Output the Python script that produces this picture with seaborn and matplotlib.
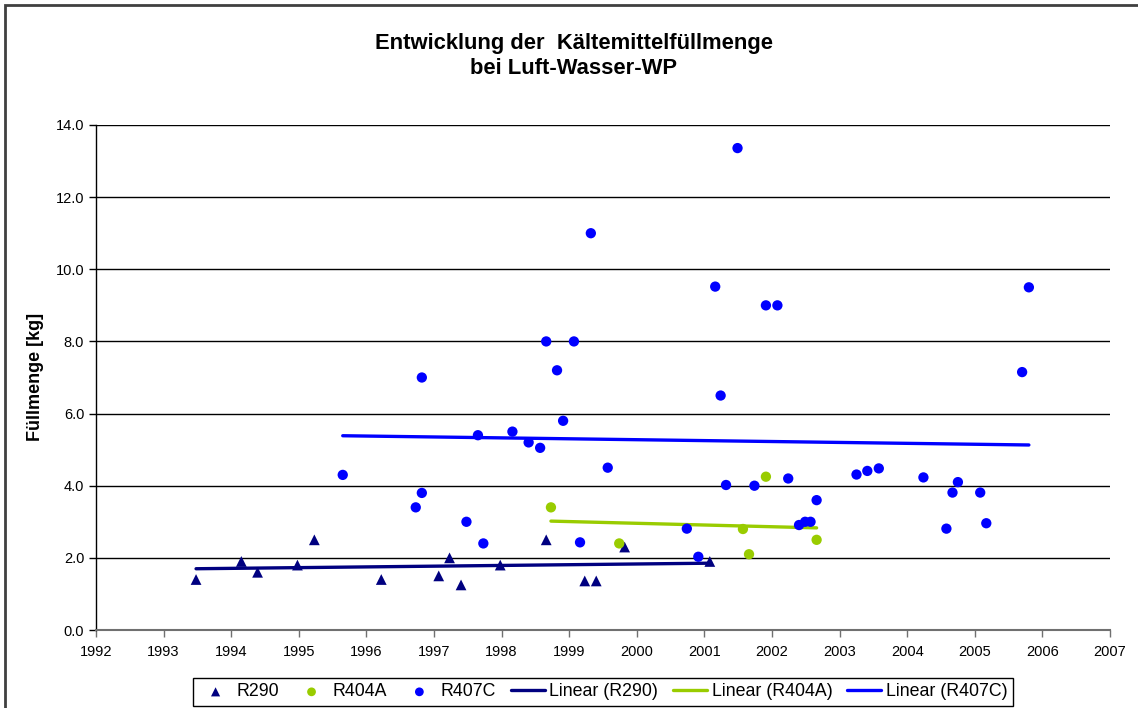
import numpy as np
import pandas as pd
import matplotlib
matplotlib.use("Agg")
import matplotlib.pyplot as plt
import seaborn as sns
from matplotlib.patches import Rectangle
from matplotlib.ticker import FormatStrFormatter


# Baujahr (Dezimaljahr) und Füllmenge [kg]
R290_YEAR = [1993.48, 1994.15, 1994.39, 1994.98, 1995.23, 1996.22, 1997.07, 1997.23,
             1997.40, 1997.98, 1998.66, 1999.23, 1999.40, 1999.82, 2001.08]
R290_KG = [1.40, 1.90, 1.60, 1.80, 2.50, 1.40, 1.50, 2.00,
           1.25, 1.80, 2.50, 1.36, 1.36, 2.30, 1.90]

R404A_YEAR = [1998.73, 1999.74, 2001.57, 2001.66, 2001.91, 2002.66]
R404A_KG = [3.40, 2.40, 2.80, 2.10, 4.25, 2.50]

R407C_YEAR = [1995.65, 1996.73, 1996.82, 1996.82, 1997.48, 1997.65, 1997.73, 1998.16,
              1998.40, 1998.57, 1998.66, 1998.82, 1998.91, 1999.07, 1999.16, 1999.32,
              1999.57, 2000.74, 2000.91, 2001.16, 2001.24, 2001.32, 2001.49, 2001.74,
              2001.91, 2002.08, 2002.24, 2002.40, 2002.49, 2002.57, 2002.66, 2003.25,
              2003.41, 2003.58, 2004.24, 2004.58, 2004.67, 2004.75, 2005.08, 2005.17,
              2005.70, 2005.80]
R407C_KG = [4.30, 3.40, 3.80, 7.00, 3.00, 5.40, 2.40, 5.50,
            5.20, 5.05, 8.00, 7.20, 5.80, 8.00, 2.43, 11.00,
            4.50, 2.81, 2.03, 9.52, 6.50, 4.02, 13.36, 4.00,
            9.00, 9.00, 4.20, 2.91, 3.00, 3.00, 3.60, 4.31,
            4.41, 4.48, 4.23, 2.81, 3.81, 4.10, 3.81, 2.96,
            7.15, 9.50]

SERIES = [
    ("R290", R290_YEAR, R290_KG, "#000080", "^"),
    ("R404A", R404A_YEAR, R404A_KG, "#99CC00", "o"),
    ("R407C", R407C_YEAR, R407C_KG, "#0000FF", "o"),
]

X_TICKS = list(range(1992, 2008))
Y_TICKS = [0, 2, 4, 6, 8, 10, 12, 14]

TITLE = "Entwicklung der  Kältemittelfüllmenge\nbei Luft-Wasser-WP"
Y_LABEL = "Füllmenge [kg]"


def main():
    sns.set_theme(style="white")
    plt.rcParams["font.family"] = ["Liberation Sans", "DejaVu Sans"]
    plt.rcParams["text.color"] = "black"
    plt.rcParams["xtick.color"] = "black"
    plt.rcParams["ytick.color"] = "black"

    fig = plt.figure(figsize=(11.38, 7.08), dpi=100)
    ax = fig.add_axes([96 / 1138, 1 - 630 / 708, (1110 - 96) / 1138, (630 - 125) / 708])

    # Rahmen um das Diagramm (rechts/unten abgeschnitten)
    fig.patches.append(Rectangle((5 / 1138, -0.2), 1.2, 1.2 - 5 / 708,
                                 transform=fig.transFigure, fill=False,
                                 edgecolor="#404040", linewidth=2))

    ax.set_axisbelow(True)
    ax.yaxis.grid(True, color="black", linewidth=1)
    ax.xaxis.grid(False)

    for name, years, kg, color, marker in SERIES:
        df = pd.DataFrame({"year": years, "kg": kg})
        sns.scatterplot(data=df, x="year", y="kg", ax=ax, color=color, marker=marker,
                        s=60 if marker == "^" else 55, edgecolor="none", label=name, zorder=3)
        sns.regplot(data=df, x="year", y="kg", ax=ax, scatter=False, ci=None,
                    truncate=True, color=color, label=f"Linear ({name})",
                    line_kws={"linewidth": 2.4, "zorder": 2})

    handles, labels = ax.get_legend_handles_labels()
    lookup = dict(zip(labels, handles))
    order = [s[0] for s in SERIES] + [f"Linear ({s[0]})" for s in SERIES]
    ax.legend([lookup[k] for k in order], order, loc="center",
              bbox_to_anchor=(603 / 1138, 1 - 692 / 708), bbox_transform=fig.transFigure,
              ncol=6, fontsize=12.8, frameon=True, fancybox=False, edgecolor="black",
              framealpha=1, borderpad=0.3, handlelength=1.9, handletextpad=0.25,
              columnspacing=0.85, markerscale=0.85)
    ax.get_legend().get_frame().set_linewidth(1)

    ax.set_xlim(1992, 2007)
    ax.set_ylim(0, 14)
    ax.set_xticks(X_TICKS)
    ax.set_yticks(Y_TICKS)
    ax.yaxis.set_major_formatter(FormatStrFormatter("%.1f"))
    ax.tick_params(axis="both", direction="out", length=5, width=1, labelsize=10.5,
                   bottom=True, left=True, colors="black")
    ax.tick_params(axis="x", colors="#707070", labelcolor="black", pad=6)

    for side in ["top", "right"]:
        ax.spines[side].set_visible(False)
    ax.spines["left"].set_color("black")
    ax.spines["left"].set_linewidth(1)
    ax.spines["bottom"].set_color("#707070")
    ax.spines["bottom"].set_linewidth(1.5)

    ax.set_xlabel("")
    ax.set_ylabel("")
    fig.text(35 / 1138, 1 - 377 / 708, Y_LABEL, rotation=90, ha="center", va="center",
             fontsize=13, fontweight="bold", color="black")
    fig.text(574 / 1138, 1 - 56 / 708, TITLE, ha="center", va="center",
             fontsize=15.8, fontweight="bold", linespacing=1.3, color="black")

    fig.savefig("out.png", dpi=100)
    plt.close(fig)


if __name__ == "__main__":
    main()
